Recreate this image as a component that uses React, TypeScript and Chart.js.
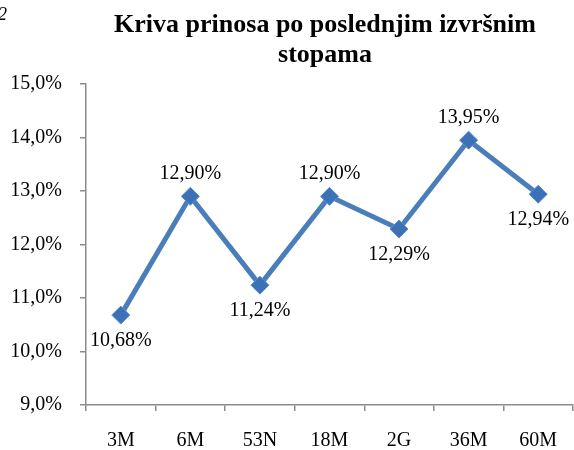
import React, { useEffect, useRef } from "react";
import { Chart, registerables } from "chart.js";

Chart.register(...registerables);

const categories = ["3M", "6M", "53N", "18M", "2G", "36M", "60M"];
const yieldValues = [10.68, 12.9, 11.24, 12.9, 12.29, 13.95, 12.94];
const labelSides = ["below", "above", "below", "above", "below", "above", "below"];
const titleLines = ["Kriva prinosa po poslednjim izvršnim", "stopama"];
const yMin = 9;
const yMax = 15;
const yStep = 1;

const fmtPct = (v: number, d: number) => v.toFixed(d).replace(".", ",") + "%";

const SERIF = "'Liberation Serif', 'Times New Roman', serif";

const overlayPlugin = {
  id: "overlay",
  afterDraw(chart: any) {
    const ctx = chart.ctx;
    ctx.save();
    ctx.fillStyle = "#000";
    ctx.font = `italic 18px ${SERIF}`;
    ctx.textAlign = "right";
    ctx.textBaseline = "alphabetic";
    ctx.fillText("2", 7, 20);
    ctx.font = `bold 26px ${SERIF}`;
    ctx.textAlign = "center";
    ctx.fillText(titleLines[0], 325, 32);
    ctx.fillText(titleLines[1], 325, 62);
    const meta = chart.getDatasetMeta(0);
    ctx.font = `20px ${SERIF}`;
    meta.data.forEach((pt: any, i: number) => {
      const y = labelSides[i] === "above" ? pt.y - 17 : pt.y + 31;
      ctx.fillText(fmtPct(yieldValues[i], 2), pt.x, y);
    });
    ctx.restore();
  },
};

export default function App() {
  const ref = useRef<HTMLCanvasElement | null>(null);
  useEffect(() => {
    if (!ref.current) return;
    const chart = new Chart(ref.current, {
      type: "line",
      data: {
        labels: categories,
        datasets: [
          {
            data: yieldValues,
            borderColor: "#4A7EBB",
            borderWidth: 5,
            pointStyle: "rectRot",
            pointRadius: 9,
            pointBackgroundColor: "#3C72B5",
            pointBorderColor: "#5B8FCF",
            pointBorderWidth: 1,
            tension: 0,
          },
        ],
      },
      options: {
        animation: false,
        responsive: false,
        devicePixelRatio: 1,
        layout: { autoPadding: false, padding: { top: 84, left: 10, right: 1, bottom: 0 } },
        plugins: {
          legend: { display: false },
          title: { display: false },
          tooltip: { enabled: false },
        },
        scales: {
          x: {
            offset: true,
            afterFit: (s: any) => {
              s.height = 45;
              s.paddingLeft = 0;
              s.paddingRight = 0;
            },
            grid: {
              offset: true,
              drawOnChartArea: false,
              drawTicks: true,
              tickLength: 6,
              color: "#8C8C8C",
              lineWidth: 1.5,
            },
            border: { color: "#8C8C8C", width: 1.5 },
            ticks: {
              color: "#000",
              padding: 20,
              font: { family: SERIF, size: 20, lineHeight: 1 },
              maxRotation: 0,
            },
          },
          y: {
            min: yMin,
            max: yMax,
            afterFit: (s: any) => {
              s.width = 76;
            },
            grid: {
              drawOnChartArea: false,
              drawTicks: true,
              tickLength: 6,
              color: "#8C8C8C",
              lineWidth: 1.5,
            },
            border: { color: "#8C8C8C", width: 1.5 },
            ticks: {
              stepSize: yStep,
              color: "#000",
              padding: 18,
              font: { family: SERIF, size: 20 },
              callback: (v: any) => fmtPct(Number(v), 1),
            },
          },
        },
      },
      plugins: [overlayPlugin],
    });
    return () => chart.destroy();
  }, []);
  return (
    <div style={{ position: "fixed", left: 0, top: 0, width: 574, height: 450, background: "#fff" }}>
      <canvas ref={ref} width={574} height={450} style={{ width: 574, height: 450 }} />
    </div>
  );
}
